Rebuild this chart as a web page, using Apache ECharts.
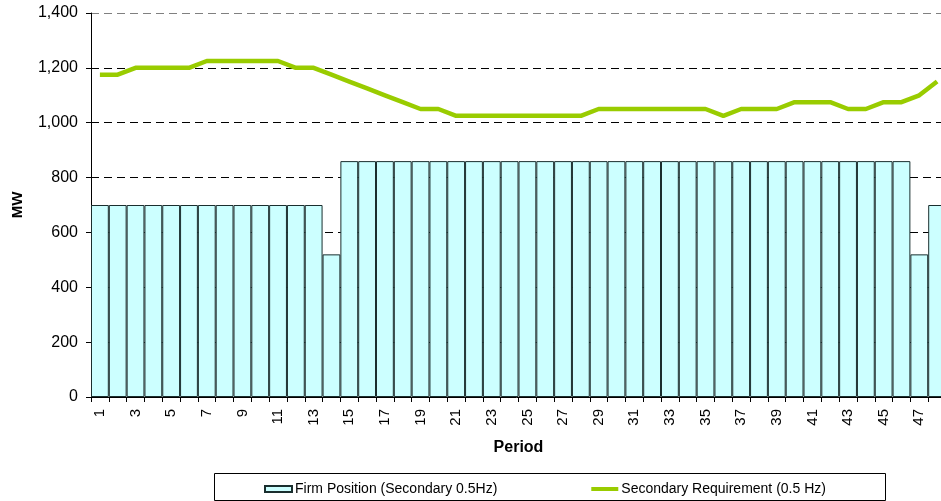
<!DOCTYPE html>
<html>
<head>
<meta charset="utf-8">
<script src="https://cdn.jsdelivr.net/npm/echarts@6/dist/echarts.min.js"></script>
<style>
  html, body { margin: 0; padding: 0; background: #fff; }
  #chart { width: 941px; height: 501px; }
</style>
</head>
<body>
<div id="chart"></div>
<script>
// periods 1..48
const periods = []
for (let i = 1; i <= 48; i++) periods.push(String(i))

const firmPosition = [
  700, 700, 700, 700, 700, 700, 700, 700, 700, 700, 700, 700, 700, 520,
  860, 860, 860, 860, 860, 860, 860, 860, 860, 860, 860, 860, 860, 860,
  860, 860, 860, 860, 860, 860, 860, 860, 860, 860, 860, 860, 860, 860,
  860, 860, 860, 860, 520, 700
]

const secondaryReq = [
  1175, 1175, 1200, 1200, 1200, 1200, 1225, 1225, 1225, 1225, 1225, 1200,
  1200, 1175, 1150, 1125, 1100, 1075, 1050, 1050, 1025, 1025, 1025, 1025,
  1025, 1025, 1025, 1025, 1050, 1050, 1050, 1050, 1050, 1050, 1050, 1025,
  1050, 1050, 1050, 1075, 1075, 1075, 1050, 1050, 1075, 1075, 1100, 1150
]

const font = "Liberation Sans, Arial, sans-serif"
const myChart = echarts.init(document.getElementById("chart"))

myChart.setOption({
  animation: false,
  textStyle: { fontFamily: font },
  // the plot runs a little past the right edge of the picture
  grid: { left: 91, top: 13, width: 855, bottom: 104, outerBoundsMode: "none" },
  legend: {
    left: 259,
    top: 477,
    itemWidth: 27,
    itemHeight: 6,
    itemGap: 94,
    textStyle: { fontFamily: font, fontSize: 14, color: "#000", padding: [0, 0, 0, -2] },
    data: [
      { name: "Firm Position (Secondary 0.5Hz)", icon: "rect" },
      {
        name: "Secondary Requirement (0.5 Hz)",
        icon: "path://M0,0L0,0M0,1L27,1L27,5L0,5ZM27,6L27,6",
        itemStyle: { color: "#99CC00", borderWidth: 0 },
      },
    ],
  },
  graphic: [
    {
      type: "rect",
      left: 212,
      top: 471,
      shape: { width: 671, height: 27 },
      style: { fill: "none", stroke: "#000", lineWidth: 1 },
    },
  ],
  xAxis: {
    type: "category",
    data: periods,
    boundaryGap: true,
    name: "Period",
    nameLocation: "middle",
    nameGap: 43,
    nameTextStyle: { fontFamily: font, fontSize: 16, fontWeight: "bold", color: "#000" },
    axisLine: { lineStyle: { color: "#000", width: 1 } },
    axisTick: { show: true, interval: 0, length: 5, lineStyle: { color: "#000" } },
    axisLabel: {
      interval: 1,
      rotate: 90,
      margin: 12,
      fontFamily: font,
      fontSize: 15,
      color: "#000",
    },
  },
  yAxis: {
    type: "value",
    min: 0,
    max: 1400,
    interval: 200,
    name: "MW",
    nameLocation: "middle",
    nameGap: 66,
    nameTextStyle: { fontFamily: font, fontSize: 15, fontWeight: "bold", color: "#000" },
    axisLine: { show: true, lineStyle: { color: "#000", width: 1 } },
    axisTick: { show: true, length: 5, lineStyle: { color: "#000" } },
    axisLabel: {
      fontFamily: font,
      fontSize: 16,
      color: "#000",
      margin: 13,
      formatter: (v) => v.toLocaleString("en-US"),
    },
    splitLine: {
      show: true,
      lineStyle: {
        color: ["#000", "#000", "#000", "#000", "#000", "#000", "#000", "#808080"],
        type: [8, 5],
        width: 1,
      },
    },
  },
  series: [
    {
      name: "Firm Position (Secondary 0.5Hz)",
      type: "bar",
      data: firmPosition,
      barCategoryGap: "0%",
      itemStyle: { color: "#CCFFFF", borderColor: "#1a2e2e", borderWidth: 1 },
    },
    {
      name: "Secondary Requirement (0.5 Hz)",
      type: "line",
      data: secondaryReq,
      symbol: "none",
      lineStyle: { color: "#99CC00", width: 4.5 },
      itemStyle: { color: "#99CC00" },
      z: 5,
    },
  ],
})
</script>
</body>
</html>
